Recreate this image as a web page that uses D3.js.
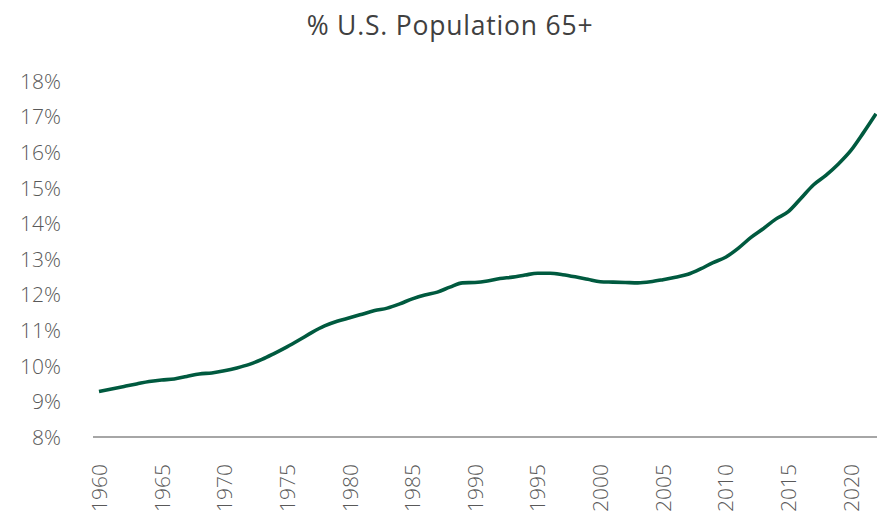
<!DOCTYPE html>
<html>
<head>
<meta charset="utf-8">
<script src="https://cdn.jsdelivr.net/npm/d3@7"></script>
<style>
  html, body { margin: 0; padding: 0; background: #fff; }
  svg { display: block; }
</style>
</head>
<body>
<svg id="chart" width="877" height="516"></svg>
<script>
const title = "% U.S. Population 65+";
const years = d3.range(1960, 2023);
const values = [
  9.28, 9.35, 9.42, 9.49, 9.56, 9.60, 9.63, 9.70, 9.77, 9.80,
  9.86, 9.94, 10.04, 10.18, 10.35, 10.53, 10.73, 10.94, 11.12, 11.25,
  11.35, 11.45, 11.55, 11.62, 11.74, 11.88, 11.99, 12.07, 12.21, 12.33,
  12.34, 12.38, 12.45, 12.49, 12.55, 12.60, 12.60, 12.56, 12.50, 12.43,
  12.36, 12.35, 12.34, 12.33, 12.36, 12.42, 12.49, 12.57, 12.72, 12.90,
  13.05, 13.30, 13.60, 13.85, 14.12, 14.33, 14.70, 15.08, 15.35, 15.67,
  16.05, 16.55, 17.08
];
const xTickYears = [1960, 1965, 1970, 1975, 1980, 1985, 1990, 1995, 2000, 2005, 2010, 2015, 2020];
const yTicks = [8, 9, 10, 11, 12, 13, 14, 15, 16, 17, 18];

const svg = d3.select("#chart");
const font = "'Open Sans', 'Noto Sans', sans-serif";

const x = d3.scaleLinear().domain([1960, 2022]).range([99, 876]);
const y = d3.scaleLinear().domain([8, 18]).range([437, 81]);

// Title
svg.append("text")
  .attr("x", 450).attr("y", 35)
  .attr("text-anchor", "middle")
  .attr("font-family", font)
  .attr("font-size", 26.5)
  .attr("letter-spacing", 0.8)
  .attr("fill", "#404040")
  .text(title);

// Y axis labels
const yAxis = d3.axisLeft(y).tickValues(yTicks).tickFormat(d => d + "%").tickSize(0).tickPadding(0);
const yg = svg.append("g").attr("transform", "translate(61,0)").call(yAxis);
yg.select(".domain").remove();
yg.selectAll("text")
  .attr("font-family", font)
  .attr("font-weight", 300)
  .attr("font-size", 21)
  .attr("fill", "#595959")
  .attr("dy", "0.35em");

// X axis baseline
svg.append("line")
  .attr("x1", 93).attr("x2", 877)
  .attr("y1", y(8)).attr("y2", y(8))
  .attr("stroke", "#a6a6a6").attr("stroke-width", 2);

// X axis labels (rotated)
const xAxis = d3.axisBottom(x).tickValues(xTickYears).tickFormat(d3.format("d")).tickSize(0).tickPadding(0);
const xg = svg.append("g").attr("transform", `translate(0,${y(8)})`).call(xAxis);
xg.select(".domain").remove();
xg.selectAll("text")
  .attr("font-family", font)
  .attr("font-weight", 300)
  .attr("font-size", 21)
  .attr("fill", "#595959")
  .attr("text-anchor", "end")
  .attr("transform", "translate(0,27) rotate(-90)")
  .attr("x", 0).attr("y", 0)
  .attr("dy", "0.35em");

// Line
const line = d3.line()
  .x((d, i) => x(years[i]))
  .y(d => y(d))
  .curve(d3.curveMonotoneX);

svg.append("path")
  .datum(values)
  .attr("d", line)
  .attr("fill", "none")
  .attr("stroke", "#005A3F")
  .attr("stroke-width", 3.6)
  .attr("stroke-linejoin", "round")
  .attr("stroke-linecap", "butt");
</script>
</body>
</html>
